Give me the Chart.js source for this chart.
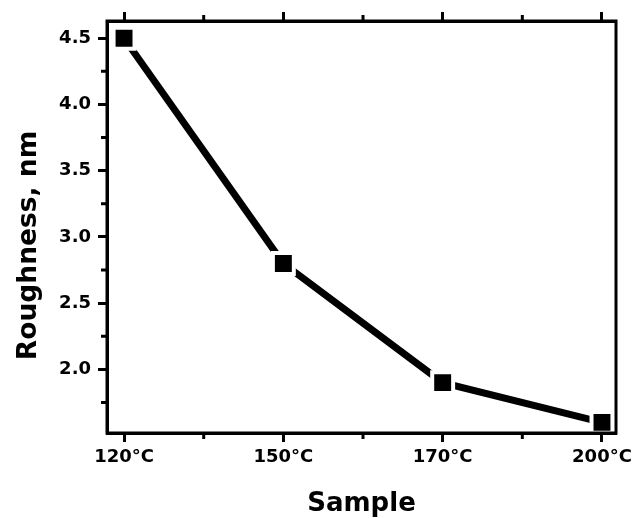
<!DOCTYPE html>
<html>
<head>
<meta charset="utf-8">
<script src="https://cdn.jsdelivr.net/npm/chart.js@4/dist/chart.umd.min.js"></script>
<style>
  html, body { margin: 0; padding: 0; background: #fff; }
  #wrap { width: 636px; height: 518px; }
</style>
</head>
<body>
<div id="wrap"><canvas id="roughChart" width="636" height="518"></canvas></div>
<script>
// values
const categories = ['120°C', '150°C', '170°C', '200°C'];
const roughness = [4.5, 2.8, 1.9, 1.6];
const yTickStep = 0.25;   // minor step, labels every 0.5
const xTickStep = 0.5;    // minor step, labels on each sample

const fontFamily = '"DejaVu Sans", "Liberation Sans", Arial, sans-serif';

// rebuild ticks on the step grid between min and max
function stepTicks(step) {
    return function(scale) {
        const out = [];
        for (let k = Math.ceil(scale.min / step - 1e-9); k * step <= scale.max + 1e-9; k++) {
            out.push({ value: +(k * step).toFixed(6) });
        }
        scale.ticks = out;
    };
}
const isMajorX = v => Math.abs(v - Math.round(v)) < 1e-6;
const isMajorY = v => Math.abs(v * 2 - Math.round(v * 2)) < 1e-6;

// frame + short minor ticks
const framePlugin = {
    id: 'frame',
    afterDraw(chart) {
        const { ctx, chartArea: a, scales } = chart;
        ctx.save();
        ctx.strokeStyle = '#000';
        ctx.lineWidth = 3;
        ctx.strokeRect(a.left, a.top, a.right - a.left, a.bottom - a.top);
        ctx.beginPath();
        scales.x.ticks.forEach(t => {
            if (isMajorX(t.value)) return;
            const px = scales.x.getPixelForValue(t.value);
            ctx.moveTo(px, a.bottom); ctx.lineTo(px, a.bottom + 6);
            ctx.moveTo(px, a.top); ctx.lineTo(px, a.top - 6);
        });
        scales.y.ticks.forEach(t => {
            if (isMajorY(t.value)) return;
            const py = scales.y.getPixelForValue(t.value);
            ctx.moveTo(a.left, py); ctx.lineTo(a.left - 6, py);
        });
        ctx.stroke();
        ctx.restore();
    }
};

const ctx = document.getElementById('roughChart').getContext('2d');
new Chart(ctx, {
    type: 'line',
    data: {
        datasets: [{
            data: roughness.map((v, i) => ({ x: i, y: v })),
            borderColor: '#000',
            borderWidth: 7,
            pointStyle: 'rect',
            pointRadius: 14.8,
            pointBackgroundColor: '#000',
            pointBorderColor: '#fff',
            pointBorderWidth: 4,
            tension: 0,
            fill: false
        }]
    },
    options: {
        responsive: false,
        animation: false,
        layout: { padding: { right: 20, left: 0, top: 0, bottom: 0 } },
        plugins: { legend: { display: false }, tooltip: { enabled: false } },
        scales: {
            x: {
                type: 'linear',
                position: 'bottom',
                min: -0.107,
                max: 3.088,
                afterBuildTicks: stepTicks(xTickStep),
                afterFit: s => { s.height = 85; s.paddingLeft = 0; s.paddingRight = 0; },
                ticks: {
                    autoSkip: false,
                    maxRotation: 0,
                    padding: 5,
                    color: '#000',
                    font: { family: fontFamily, size: 18, weight: 'bold' },
                    callback: v => isMajorX(v) ? categories[Math.round(v)] : ''
                },
                grid: {
                    drawOnChartArea: false,
                    tickLength: 9,
                    tickWidth: 3,
                    tickColor: c => isMajorX(c.tick.value) ? '#000' : 'rgba(0,0,0,0)'
                },
                border: { display: true, color: '#000', width: 3 },
                title: {
                    display: true,
                    text: 'Sample',
                    color: '#000',
                    font: { family: fontFamily, size: 26, weight: 'bold', lineHeight: 1 },
                    padding: { top: 0, bottom: 1 }
                }
            },
            x2: {
                type: 'linear',
                position: 'top',
                min: -0.107,
                max: 3.088,
                afterBuildTicks: stepTicks(xTickStep),
                afterFit: s => { s.height = 21; s.paddingLeft = 0; s.paddingRight = 0; },
                ticks: { display: false, autoSkip: false },
                grid: {
                    drawOnChartArea: false,
                    tickLength: 9,
                    tickWidth: 3,
                    tickColor: c => isMajorX(c.tick.value) ? '#000' : 'rgba(0,0,0,0)'
                },
                border: { display: true, color: '#000', width: 3 }
            },
            y: {
                type: 'linear',
                position: 'left',
                min: 1.52,
                max: 4.63,
                afterBuildTicks: stepTicks(yTickStep),
                afterFit: s => { s.width = 107; s.paddingTop = 0; s.paddingBottom = 0; },
                ticks: {
                    autoSkip: false,
                    padding: 7,
                    color: '#000',
                    font: { family: fontFamily, size: 18, weight: 'bold' },
                    callback: v => isMajorY(v) ? v.toFixed(1) : ''
                },
                grid: {
                    drawOnChartArea: false,
                    tickLength: 9,
                    tickWidth: 3,
                    tickColor: c => isMajorY(c.tick.value) ? '#000' : 'rgba(0,0,0,0)'
                },
                border: { display: true, color: '#000', width: 3 },
                title: {
                    display: true,
                    // trailing spaces nudge the centred label down like the original
                    text: 'Roughness, nm    ',
                    color: '#000',
                    font: { family: fontFamily, size: 26.5, weight: 'bold' },
                    padding: { top: 13, bottom: 0 }
                }
            }
        }
    },
    plugins: [framePlugin]
});
</script>
</body>
</html>
